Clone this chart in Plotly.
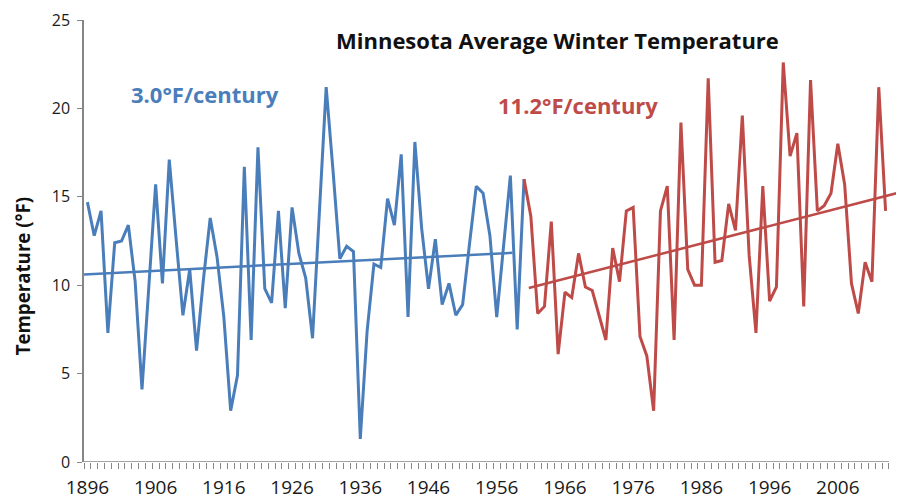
import plotly.graph_objects as go

# winters 1896-1960 (blue) and 1960-2013 (red), deg F
early_years = list(range(1896, 1961))
early_temps = [14.7, 12.8, 14.2, 7.3, 12.4, 12.5, 13.4, 10.2, 4.1, 9.8,
               15.7, 10.1, 17.1, 12.6, 8.3, 10.9, 6.3, 10.3, 13.8, 11.6,
               8.2, 2.9, 4.9, 16.7, 6.9, 17.8, 9.8, 9.0, 14.2, 8.7,
               14.4, 11.8, 10.4, 7.0, 14.0, 21.2, 16.5, 11.5, 12.2, 11.9,
               1.3, 7.4, 11.2, 11.0, 14.9, 13.4, 17.4, 8.2, 18.1, 13.2,
               9.8, 12.6, 8.9, 10.1, 8.3, 8.9, 12.3, 15.6, 15.2, 12.8,
               8.2, 12.0, 16.2, 7.5, 16.0]

late_years = list(range(1960, 2014))
late_temps = [16.0, 13.9, 8.4, 8.8, 13.6, 6.1, 9.6, 9.3, 11.8, 9.9,
              9.7, 8.3, 6.9, 12.1, 10.2, 14.2, 14.4, 7.1, 6.0, 2.9,
              14.2, 15.6, 6.9, 19.2, 10.9, 10.0, 10.0, 21.7, 11.3, 11.4,
              14.6, 13.1, 19.6, 11.7, 7.3, 15.6, 9.1, 9.9, 22.6, 17.3,
              18.6, 8.8, 21.6, 14.2, 14.5, 15.2, 18.0, 15.7, 10.1, 8.4,
              11.3, 10.2, 21.2, 14.2]

# trend line end points as drawn
early_trend_x = [1895.5, 1958.3]
early_trend_y = [10.61, 11.83]
late_trend_x = [1960.7, 2015.7]
late_trend_y = [9.84, 15.31]

tick_years = list(range(1896, 2007, 10))
minor_ticks = [y - 0.5 for y in range(1896, 2015)]

BLUE = "#4A7EBB"
RED = "#BE4B48"
GREY = "#868686"
FONT = "'Open Sans', Lato, sans-serif"

fig = go.Figure()
fig.add_trace(go.Scatter(x=early_years, y=early_temps, mode="lines",
                         line=dict(color=BLUE, width=3)))
fig.add_trace(go.Scatter(x=early_trend_x, y=early_trend_y, mode="lines",
                         line=dict(color=BLUE, width=2.5)))
fig.add_trace(go.Scatter(x=late_years, y=late_temps, mode="lines",
                         line=dict(color=RED, width=3)))
fig.add_trace(go.Scatter(x=late_trend_x, y=late_trend_y, mode="lines",
                         line=dict(color=RED, width=2.5)))

# page body has an 8px margin, so the figure is shrunk/shifted to fit
fig.update_layout(
    width=896, height=492,
    margin=dict(l=76, r=0, t=12, b=34),
    plot_bgcolor="white", paper_bgcolor="white",
    showlegend=False,
    font=dict(family=FONT, color="#1a1a1a"),
    xaxis=dict(range=[1895.5, 2015.7], showgrid=False, zeroline=False,
               showline=False, tickmode="array", tickvals=tick_years,
               ticks="", tickfont=dict(size=19), ticklabelstandoff=12,
               minor=dict(tickmode="array", tickvals=minor_ticks,
                          ticks="outside", ticklen=6, tickcolor=GREY,
                          showgrid=False)),
    yaxis=dict(range=[0, 25], dtick=5, showgrid=False, zeroline=False,
               showline=True, linecolor=GREY, linewidth=1.5,
               ticks="outside", ticklen=5, tickcolor=GREY,
               tickfont=dict(size=16), ticklabelstandoff=4),
)

# x axis line only spans the categories
fig.add_shape(type="line", xref="x", yref="y", x0=1895.5, x1=2013.5,
              y0=0, y1=0, line=dict(color=GREY, width=1.5))

labels = [
    ("<b>Minnesota Average Winter Temperature</b>", 0.577, 0.955, 22, "#111111", 0),
    ("<b>3.0°F/century</b>", 0.1476, 0.833, 22, BLUE, 0),
    ("<b>11.2°F/century</b>", 0.602, 0.808, 22, RED, 0),
    ("<b>Temperature (°F)</b>", -0.0756, 0.42, 18.7, "#111111", -90),
]
for text, x, y, size, color, angle in labels:
    fig.add_annotation(text=text, xref="paper", yref="paper", x=x, y=y,
                       xanchor="center", yanchor="middle", textangle=angle,
                       showarrow=False, font=dict(size=size, color=color))

fig.write_html("out.html")
